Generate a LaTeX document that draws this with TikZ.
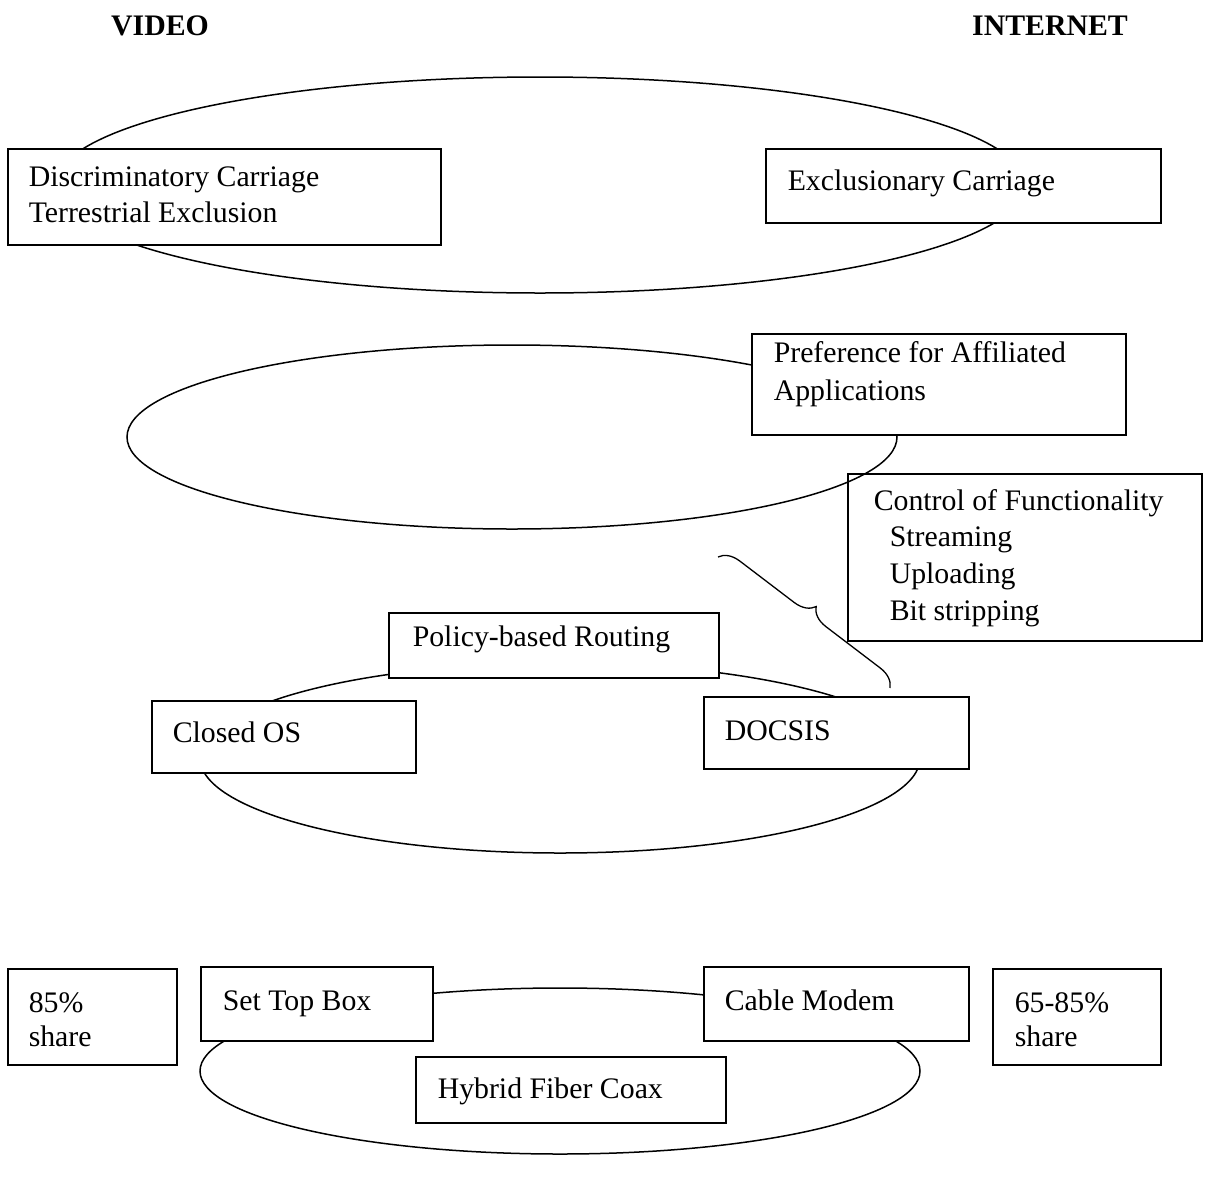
\documentclass[tikz,border=0pt]{standalone}
\usepackage{fontspec}
\setmainfont{Liberation Serif}
\usetikzlibrary{decorations.pathreplacing}
\begin{document}
\begin{tikzpicture}[x=1pt,y=-1pt,
  line width=1.5pt,
  every node/.style={font=\fontsize{29.8}{36}\selectfont},
  boxframe/.style={draw, fill=white, inner sep=0pt, anchor=north west},
  label/.style={anchor=base west, inner sep=0pt},
  head/.style={anchor=base, inner sep=0pt, font=\fontsize{29.8}{36}\selectfont\bfseries},
  ring/.style={draw}]
\useasboundingbox (0,0) rectangle (1207,1184);

% column headings
\node[head] (video) at (160,35) {VIDEO};
\node[head] (internet) at (1050,35) {INTERNET};

% --- carriage layer ---
\draw[ring] (540,185) ellipse [x radius=485, y radius=108];
\node[boxframe, minimum width=433, minimum height=96] (disc) at (7,148) {};
\node[label] (discA) at (28,186) {Discriminatory Carriage};
\node[label] (discB) at (28,222) {Terrestrial Exclusion};
\node[boxframe, minimum width=395, minimum height=74] (excl) at (765,148) {};
\node[label] (exclA) at (787,190) {Exclusionary Carriage};

% --- applications layer ---
\node[boxframe, minimum width=354, minimum height=167] (ctrl) at (847,473) {};
\draw[ring] (512,437) ellipse [x radius=385, y radius=92];
\node[boxframe, minimum width=374, minimum height=101] (pref) at (751,333) {};
\node[label] (prefA) at (773,362) {Preference for Affiliated};
\node[label] (prefB) at (773,400) {Applications};
\node[label] (ctrlA) at (873,510) {Control of Functionality};
\node[label] (ctrlB) at (889,546) {Streaming};
\node[label] (ctrlC) at (889,583) {Uploading};
\node[label] (ctrlD) at (889,620) {Bit stripping};

% brace tying DOCSIS to functionality control
\coordinate (braceA) at (718,557);
\coordinate (braceB) at (890,688);
\draw[line width=1.3pt, decorate, decoration={brace, amplitude=20pt, aspect=0.5}] (braceA) -- (braceB);

% --- operating layer ---
\draw[ring] (560,758) ellipse [x radius=360, y radius=95];
\node[boxframe, minimum width=330, minimum height=65] (policy) at (388,612) {};
\node[label] (policyA) at (412,646) {Policy-based Routing};
\node[boxframe, minimum width=264, minimum height=72] (closed) at (151,700) {};
\node[label] (closedA) at (172,742) {Closed OS};
\node[boxframe, minimum width=265, minimum height=72] (docsis) at (703,696) {};
\node[label] (docsisA) at (724,740) {DOCSIS};

% --- physical layer ---
\draw[ring] (560,1071) ellipse [x radius=360, y radius=83];
\node[boxframe, minimum width=169, minimum height=96] (vshare) at (7,968) {};
\node[label] (vshareA) at (28,1012) {85\%};
\node[label] (vshareB) at (28,1046) {share};
\node[boxframe, minimum width=232, minimum height=74] (stb) at (200,966) {};
\node[label] (stbA) at (222,1010) {Set Top Box};
\node[boxframe, minimum width=265, minimum height=74] (modem) at (703,966) {};
\node[label] (modemA) at (724,1010) {Cable Modem};
\node[boxframe, minimum width=168, minimum height=96] (ishare) at (992,968) {};
\node[label] (ishareA) at (1014,1012) {65-85\%};
\node[label] (ishareB) at (1014,1046) {share};
\node[boxframe, minimum width=310, minimum height=66] (hfc) at (415,1056) {};
\node[label] (hfcA) at (437,1098) {Hybrid Fiber Coax};
\end{tikzpicture}
\end{document}
